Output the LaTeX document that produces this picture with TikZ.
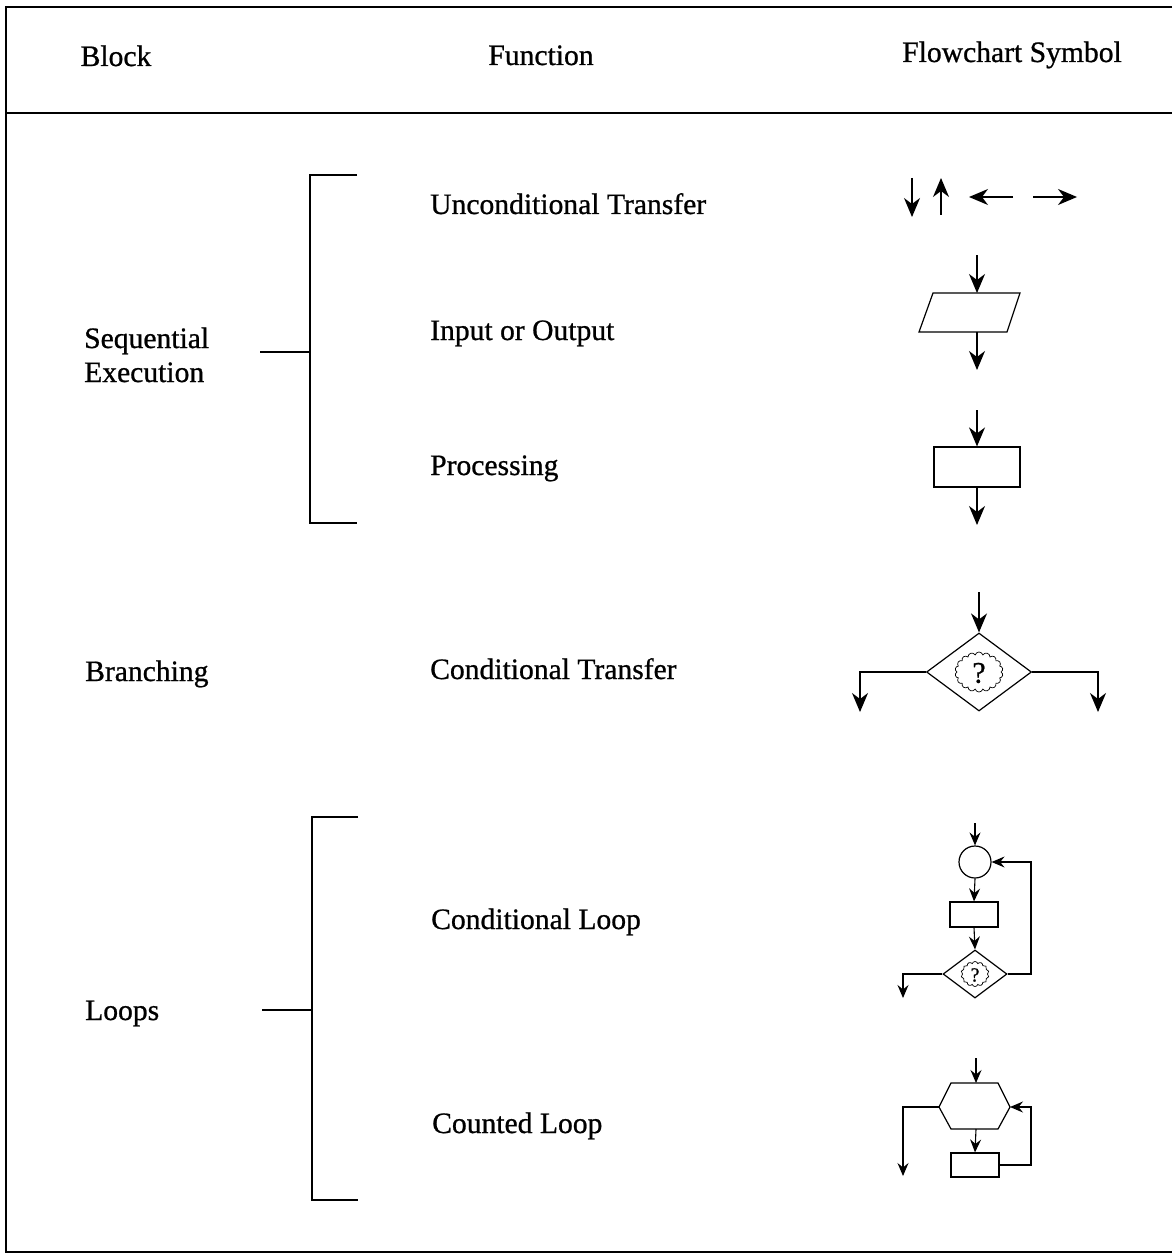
\documentclass[tikz,border=0pt]{standalone}
\usepackage{fontspec}
\setmainfont{Liberation Serif}[FakeBold=0.8]
\usetikzlibrary{arrows.meta,shapes.geometric,shapes.symbols}

\begin{document}
\begin{tikzpicture}[x=1pt,y=-1pt,
  frameline/.style={line width=2.8pt},
  bracketline/.style={line width=2.4pt},
  symline/.style={line width=1.2pt},
  flow/.style={line width=1.3pt,-{Stealth[length=19pt,width=16pt,inset=6pt]}},
  smallflow/.style={line width=1.1pt,-{Stealth[length=13pt,width=11pt,inset=4.5pt]}},
  lbl/.style={anchor=base west,inner sep=0pt,font=\fontsize{29.6}{34}\selectfont},
  hdr/.style={anchor=base,inner sep=0pt,font=\fontsize{29.6}{34}\selectfont},
  boxsym/.style={draw,line width=1.2pt,rectangle,inner sep=0pt},
  decsym/.style={draw,line width=1.2pt,diamond,inner sep=0pt},
  puff/.style={draw,line width=0.7pt,cloud,cloud puffs=18,cloud ignores aspect,inner sep=0pt}
]
\useasboundingbox (0,0) rectangle (1172,1257);

% table frame
\draw[frameline] (1172,7) -- (6,7) -- (6,1252) -- (1172,1252);
\draw[frameline] (6,113) -- (1172,113);

% column headings
\node[hdr] (hBlock) at (116,66) {Block};
\node[hdr] (hFunc) at (541,65) {Function};
\node[hdr] (hSym) at (1012,62) {Flowchart Symbol};

% block names
\node[lbl] (seq1) at (84,348) {Sequential};
\node[lbl] (seq2) at (84,382) {Execution};
\node[lbl] (branch) at (85,681) {Branching};
\node[lbl] (loops) at (85,1020) {Loops};

% functions
\node[lbl] (fUncond) at (430,214) {Unconditional Transfer};
\node[lbl] (fIO) at (430,340) {Input or Output};
\node[lbl] (fProc) at (430,475) {Processing};
\node[lbl] (fCond) at (430,679) {Conditional Transfer};
\node[lbl] (fCLoop) at (431,929) {Conditional Loop};
\node[lbl] (fCount) at (432,1133) {Counted Loop};

% brackets
\coordinate (b1top) at (357,175);
\coordinate (b1bot) at (357,523);
\coordinate (b1stub) at (260,352);
\draw[bracketline] (b1top) -- (310,175) -- (310,523) -- (b1bot);
\draw[bracketline] (b1stub) -- (310,352);

\coordinate (b2top) at (358,817);
\coordinate (b2bot) at (358,1200);
\coordinate (b2stub) at (262,1010);
\draw[bracketline] (b2top) -- (312,817) -- (312,1200) -- (b2bot);
\draw[bracketline] (b2stub) -- (312,1010);

% unconditional transfer: plain arrows
\coordinate (dA) at (912,178);  \coordinate (dB) at (912,217);
\coordinate (uA) at (941,215);  \coordinate (uB) at (941,178);
\coordinate (lA) at (1013,197); \coordinate (lB) at (969,197);
\coordinate (rA) at (1033,197); \coordinate (rB) at (1077,197);
\draw[flow] (dA) -- (dB);
\draw[flow] (uA) -- (uB);
\draw[flow] (lA) -- (lB);
\draw[flow] (rA) -- (rB);

% input / output parallelogram
\coordinate (ioIn) at (977,255);
\coordinate (ioT) at (977,293);
\coordinate (ioOut) at (977,370);
\draw[symline] (933,293) -- (1020,293) -- (1007,332) -- (919,332) -- cycle;
\draw[flow] (ioIn) -- (ioT);
\draw[flow] (977,332) -- (ioOut);

% processing box
\node[boxsym,minimum width=86pt,minimum height=40pt] (proc) at (977,467) {};
\coordinate (procIn) at (977,410);
\coordinate (procOut) at (977,525);
\draw[flow] (procIn) -- (proc.north);
\draw[flow] (proc.south) -- (procOut);

% conditional transfer decision
\node[decsym,minimum width=105pt,minimum height=78pt] (dec) at (979,672) {};
\node[puff,minimum width=48pt,minimum height=40pt] (decQ) at (979,672) {};
\node[font=\fontsize{30}{30}\selectfont,inner sep=0pt] (decQm) at (979,673) {?};
\coordinate (decIn) at (979,592);
\coordinate (decL) at (860,712);
\coordinate (decR) at (1098,712);
\draw[flow] (decIn) -- (dec.north);
\draw[flow] (dec.west) -| (decL);
\draw[flow] (dec.east) -| (decR);

% conditional loop
\node[draw,line width=1.2pt,circle,minimum size=32pt,inner sep=0pt] (clC) at (975,862) {};
\node[boxsym,minimum width=48pt,minimum height=25pt] (clR) at (974,914.5) {};
\node[decsym,minimum width=64pt,minimum height=48pt] (clD) at (975,974) {};
\node[puff,cloud puffs=14,minimum width=28pt,minimum height=25pt] (clQ) at (975,974) {};
\node[font=\fontsize{20}{20}\selectfont,inner sep=0pt] (clQm) at (975,975) {?};
\coordinate (clIn) at (975,823);
\coordinate (clBack) at (1031,862);
\coordinate (clOut) at (903,998);
\draw[smallflow] (clIn) -- (clC.north);
\draw[smallflow] (clC.south) -- (clR.north);
\draw[smallflow] (clR.south) -- (clD.north);
\draw[smallflow] (clD.east) -| (clBack) -- (clC.east);
\draw[smallflow] (clD.west) -| (clOut);

% counted loop
\coordinate (hxT) at (976,1083);
\coordinate (hxB) at (976,1129);
\coordinate (hxL) at (939,1107);
\coordinate (hxR) at (1010,1107);
\draw[symline] (951,1083) -- (998,1083) -- (hxR) -- (998,1129) -- (951,1129) -- (hxL) -- cycle;
\node[boxsym,minimum width=48pt,minimum height=24pt] (ctR) at (975,1165) {};
\coordinate (ctIn) at (976,1058);
\coordinate (ctBack) at (1031,1107);
\coordinate (ctOut) at (903,1176);
\draw[smallflow] (ctIn) -- (hxT);
\draw[smallflow] (hxB) -- (ctR.north);
\draw[smallflow] (ctR.east) -| (ctBack) -- (hxR);
\draw[smallflow] (hxL) -| (ctOut);
\end{tikzpicture}
\end{document}
